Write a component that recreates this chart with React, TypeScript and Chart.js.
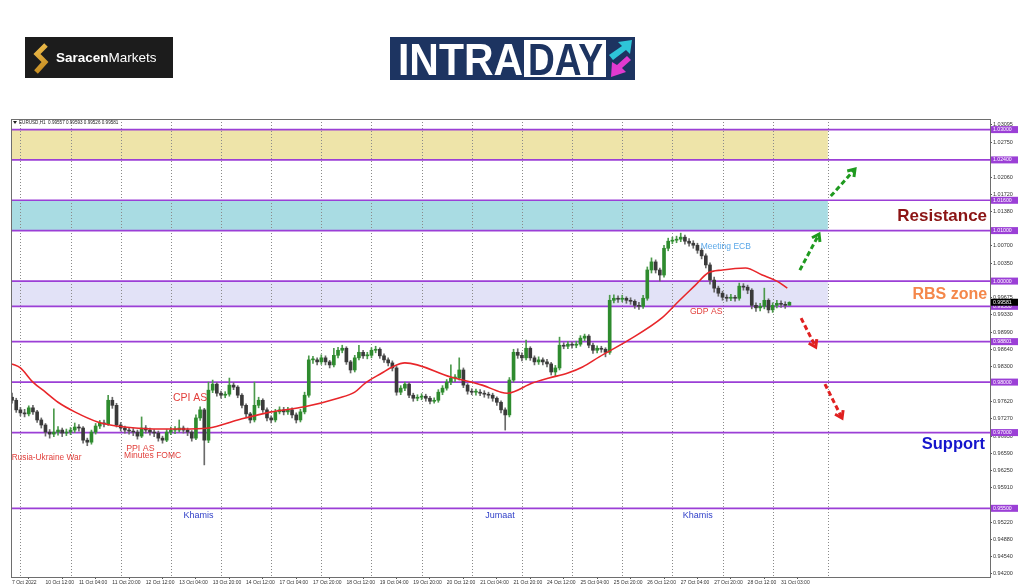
import { useEffect, useRef } from "react";
import { Chart, registerables } from "chart.js";

Chart.register(...registerables);

// ---- Data (2-hour candles) ----
const firstOpen = 0.977;
const closes = [
  0.9764, 0.9745, 0.9739, 0.9737, 0.9749, 0.9741, 0.9725, 0.9715, 0.9701, 0.9697,
  0.9701, 0.9705, 0.9699, 0.9701, 0.9705, 0.9711, 0.9709, 0.9685, 0.9681, 0.9701,
  0.9713, 0.9719, 0.9717, 0.9764, 0.9754, 0.9715, 0.9709, 0.9705, 0.9703, 0.9701,
  0.9693, 0.9709, 0.9705, 0.9701, 0.9699, 0.9689, 0.9685, 0.9701, 0.9705, 0.9705,
  0.9709, 0.9705, 0.9701, 0.9689, 0.9729, 0.9745, 0.9685, 0.9784, 0.9796, 0.9778,
  0.9774, 0.9776, 0.9794, 0.979, 0.9774, 0.9754, 0.9737, 0.9725, 0.9754, 0.9764,
  0.9745, 0.9729, 0.9725, 0.9741, 0.9745, 0.9741, 0.9745, 0.9735, 0.9725, 0.9741,
  0.9774, 0.9844, 0.9844, 0.984, 0.9848, 0.984, 0.9834, 0.9853, 0.9863, 0.9867,
  0.984, 0.9824, 0.9848, 0.9859, 0.9852, 0.9853, 0.9863, 0.9865, 0.9852, 0.9844,
  0.9838, 0.9828, 0.978, 0.9788, 0.9796, 0.9774, 0.9768, 0.977, 0.9772, 0.9768,
  0.9762, 0.9764, 0.978, 0.9788, 0.98, 0.9808, 0.9808, 0.9824, 0.9794, 0.9782,
  0.978, 0.978, 0.9778, 0.9776, 0.9774, 0.9768, 0.976, 0.9745, 0.9735, 0.9804,
  0.9859, 0.9853, 0.9848, 0.9867, 0.9848, 0.984, 0.9844, 0.984, 0.9836, 0.982,
  0.9828, 0.9873, 0.9871, 0.9875, 0.9873, 0.9875, 0.9887, 0.9891, 0.9873, 0.9863,
  0.9867, 0.9865, 0.9859, 0.9962, 0.9966, 0.9964, 0.9966, 0.9962, 0.996, 0.9952,
  0.995, 0.9966, 1.0022, 1.0038, 1.0022, 1.0012, 1.0065, 1.0079, 1.0081, 1.0083,
  1.0087, 1.0079, 1.0075, 1.0071, 1.0061, 1.005, 1.0032, 1.0002, 0.9986, 0.9976,
  0.9968, 0.9966, 0.9968, 0.9966, 0.999, 0.9988, 0.9982, 0.9952, 0.9947, 0.995,
  0.9962, 0.9943, 0.9952, 0.9956, 0.9954, 0.9952, 0.9958,
];
const highs = [
  0.9778, 0.9768, 0.975, 0.9746, 0.9753, 0.9754, 0.9744, 0.9729, 0.9718, 0.9706,
  0.9747, 0.9712, 0.9709, 0.9707, 0.971, 0.9719, 0.9716, 0.9712, 0.9689, 0.9705,
  0.9718, 0.9724, 0.9725, 0.9774, 0.977, 0.9758, 0.972, 0.9713, 0.971, 0.9708,
  0.9705, 0.9731, 0.9714, 0.9709, 0.9706, 0.9703, 0.9693, 0.9706, 0.9711, 0.9712,
  0.9725, 0.9713, 0.9709, 0.9704, 0.9735, 0.9751, 0.9748, 0.98, 0.9804, 0.9799,
  0.9782, 0.9781, 0.9808, 0.9799, 0.9793, 0.9777, 0.9757, 0.974, 0.98, 0.977,
  0.9767, 0.9749, 0.9733, 0.9746, 0.9751, 0.975, 0.975, 0.9749, 0.9739, 0.9746,
  0.978, 0.9852, 0.9851, 0.9848, 0.9854, 0.9852, 0.9843, 0.9867, 0.9869, 0.9873,
  0.987, 0.9843, 0.9853, 0.9873, 0.9863, 0.9859, 0.9868, 0.9871, 0.9868, 0.9856,
  0.9848, 0.9842, 0.9831, 0.9793, 0.98, 0.9799, 0.9778, 0.9775, 0.9777, 0.9776,
  0.9772, 0.9769, 0.9785, 0.9793, 0.9805, 0.9834, 0.9815, 0.9848, 0.9828, 0.9797,
  0.9787, 0.9786, 0.9785, 0.9783, 0.978, 0.9778, 0.9771, 0.9763, 0.9749, 0.9809,
  0.9865, 0.9866, 0.9858, 0.9883, 0.987, 0.9852, 0.985, 0.9848, 0.9845, 0.9839,
  0.9833, 0.9889, 0.9878, 0.988, 0.9879, 0.9881, 0.9892, 0.9895, 0.9894, 0.9877,
  0.9872, 0.9871, 0.9868, 0.9972, 0.9973, 0.9971, 0.9972, 0.9969, 0.9967, 0.9963,
  0.9958, 0.9972, 1.0028, 1.0046, 1.0042, 1.0026, 1.0071, 1.0085, 1.0087, 1.0089,
  1.0095, 1.0091, 1.0084, 1.008, 1.0075, 1.0065, 1.0054, 1.0036, 1.0008, 0.999,
  0.998, 0.9973, 0.9974, 0.9972, 0.9996, 0.9995, 0.9992, 0.9985, 0.9957, 0.9956,
  0.9986, 0.9965, 0.9957, 0.9962, 0.9961, 0.9959, 0.9959,
];
const lows = [
  0.9758, 0.974, 0.9733, 0.9731, 0.9733, 0.9736, 0.972, 0.9709, 0.9693, 0.9689,
  0.9692, 0.9695, 0.9692, 0.9694, 0.9696, 0.97, 0.9703, 0.9679, 0.9674, 0.9677,
  0.9697, 0.9708, 0.9711, 0.9714, 0.9748, 0.9711, 0.9703, 0.9699, 0.9697, 0.9694,
  0.9687, 0.969, 0.9699, 0.9695, 0.9692, 0.9683, 0.9679, 0.9682, 0.9696, 0.9698,
  0.9701, 0.9699, 0.9694, 0.9683, 0.9686, 0.9724, 0.9636, 0.968, 0.9779, 0.9772,
  0.9768, 0.9769, 0.9772, 0.9785, 0.9769, 0.9749, 0.9731, 0.9719, 0.9721, 0.9749,
  0.974, 0.9723, 0.9719, 0.9721, 0.9737, 0.9735, 0.9736, 0.9729, 0.9719, 0.9721,
  0.9737, 0.977, 0.9837, 0.9834, 0.9835, 0.9834, 0.9828, 0.983, 0.9848, 0.9858,
  0.9835, 0.9818, 0.982, 0.9844, 0.9847, 0.9846, 0.9848, 0.9858, 0.9847, 0.9839,
  0.9832, 0.9822, 0.9774, 0.9775, 0.9783, 0.9769, 0.9762, 0.9763, 0.9765, 0.9762,
  0.9757, 0.9758, 0.976, 0.9775, 0.9784, 0.9795, 0.9801, 0.9804, 0.9789, 0.9776,
  0.9775, 0.9774, 0.9773, 0.977, 0.9768, 0.9762, 0.9754, 0.9739, 0.9705, 0.9731,
  0.98, 0.9847, 0.9842, 0.9844, 0.9843, 0.9834, 0.9835, 0.9834, 0.983, 0.9814,
  0.9812, 0.9824, 0.9866, 0.9866, 0.9867, 0.9868, 0.9871, 0.9882, 0.9868, 0.9857,
  0.9858, 0.9859, 0.985, 0.9855, 0.9957, 0.9958, 0.9959, 0.9956, 0.9954, 0.9946,
  0.9944, 0.9946, 0.9962, 1.0016, 1.0016, 1.0, 1.0008, 1.006, 1.0074, 1.0076,
  1.0078, 1.0073, 1.0069, 1.0065, 1.0055, 1.0044, 1.0026, 0.9994, 0.9978, 0.997,
  0.9962, 0.996, 0.9961, 0.996, 0.9962, 0.9982, 0.9975, 0.9945, 0.994, 0.9941,
  0.9945, 0.9937, 0.9938, 0.9947, 0.9948, 0.9946, 0.9953,
];

// Moving average (red line) readings
const maK = [0, 2, 5, 8, 11, 15, 20.5, 25, 29.5, 35, 40.5, 47, 54, 62, 70, 78, 82, 84.5, 88.5, 91, 94, 105, 112.5, 117, 118.5, 124.5, 128.5, 133, 136.5, 140.5, 147.5, 155.5, 159.5, 163.5, 166.5, 170, 175.5, 179.5, 183, 185.5];
const maValues = [0.9836, 0.9828, 0.98, 0.978, 0.976, 0.9741, 0.9721, 0.9713, 0.9709, 0.9707, 0.9707, 0.9709, 0.9725, 0.9741, 0.9751, 0.9768, 0.978, 0.9798, 0.9818, 0.983, 0.9838, 0.981, 0.9794, 0.978, 0.9778, 0.9798, 0.9808, 0.9818, 0.983, 0.985, 0.9883, 0.9927, 0.996, 0.9992, 1.0016, 1.0022, 1.0026, 1.0012, 1.0, 0.9986];

// Axis ticks
const xTickK = [0, 8, 16, 24, 32, 40, 48, 56, 64, 72, 80, 88, 96, 104, 112, 120, 128, 136, 144, 152, 160, 168, 176, 184];
const xTickLabels = [
  "7 Oct 2022", "10 Oct 12:00", "11 Oct 04:00", "11 Oct 20:00", "12 Oct 12:00", "13 Oct 04:00",
  "13 Oct 20:00", "14 Oct 12:00", "17 Oct 04:00", "17 Oct 20:00", "18 Oct 12:00", "19 Oct 04:00",
  "19 Oct 20:00", "20 Oct 12:00", "21 Oct 04:00", "21 Oct 20:00", "24 Oct 12:00", "25 Oct 04:00",
  "25 Oct 20:00", "26 Oct 12:00", "27 Oct 04:00", "27 Oct 20:00", "28 Oct 12:00", "31 Oct 03:00",
];
const yTickValues = [1.03095, 1.0275, 1.0206, 1.0172, 1.0138, 1.007, 1.0035, 0.99675, 0.9933, 0.9899, 0.9864, 0.983, 0.9762, 0.9727, 0.9693, 0.9659, 0.9625, 0.9591, 0.9522, 0.9488, 0.9454, 0.942];
const dayLineK = [2, 14, 26, 38, 50, 62, 74, 86, 98, 110, 122, 134, 146, 158, 170, 182];
const shiftLineK = 195.2;

// Levels and zones
const levelValues = [1.03, 1.024, 1.016, 1.01, 1.0, 0.995, 0.98801, 0.98, 0.97, 0.955];
const zoneTops = [1.03, 1.016, 1.0];
const zoneBottoms = [1.024, 1.01, 0.995];
const lastPrice = 0.99581;
const headerText = "EURUSD,H1  0.99557 0.99593 0.99526 0.99581";

// Annotations
const noteTexts = ["Rusia-Ukraine War", "PPI AS", "Minutes FOMC", "CPI AS", "Meeting ECB", "GDP AS", "Khamis", "Jumaat", "Khamis", "Resistance", "RBS zone", "Support"];
const noteK = [-0.1, 27.3, 26.8, 38.5, 164.8, 162.2, 41, 113.2, 160.5, 233.3, 233.3, 232.8];
const notePrices = [0.96495, 0.9669, 0.96535, 0.97683, 1.00673, 0.99386, 0.95367, 0.95367, 0.95367, 1.01287, 0.99723, 0.96773];
const arrowFromK = [195.9, 188.5, 188.8, 194.5];
const arrowFromP = [1.01683, 1.00218, 0.99267, 0.97961];
const arrowToK = [201.7, 193.1, 192.3, 198.6];
const arrowToP = [1.02218, 1.00931, 0.98693, 0.97287];

// Styles
const noteStyles = [
  { c: "#e2403c", f: '8.3px "Liberation Sans"', a: "left" },
  { c: "#e2403c", f: '8.8px "Liberation Sans"', a: "left" },
  { c: "#e2403c", f: '8.5px "Liberation Sans"', a: "left" },
  { c: "#e2403c", f: '10.5px "Liberation Sans"', a: "left" },
  { c: "#5aa7e8", f: '8.5px "Liberation Sans"', a: "left" },
  { c: "#e2403c", f: '8.6px "Liberation Sans"', a: "left" },
  { c: "#2f3fc8", f: '9px "Liberation Sans"', a: "left" },
  { c: "#2f3fc8", f: '9px "Liberation Sans"', a: "left" },
  { c: "#2f3fc8", f: '9px "Liberation Sans"', a: "left" },
  { c: "#8b1414", f: 'bold 17px "Liberation Sans"', a: "right" },
  { c: "#f4874a", f: 'bold 16px "Liberation Sans"', a: "right" },
  { c: "#1515cc", f: 'bold 16.5px "Liberation Sans"', a: "right" },
];
const arrowColors = ["#1f9a1f", "#1f9a1f", "#e02020", "#e02020"];
const zoneColors = ["#eee4a9", "#a9dce3", "#e2e2f7"];
const levelColor = "#9b3fd6";

function drawArrow(ctx: CanvasRenderingContext2D, x1: number, y1: number, x2: number, y2: number, color: string) {
  const ang = Math.atan2(y2 - y1, x2 - x1);
  ctx.save();
  ctx.strokeStyle = color;
  ctx.lineWidth = 3;
  ctx.setLineDash([5, 3]);
  ctx.beginPath();
  ctx.moveTo(x1, y1);
  ctx.lineTo(x2 - Math.cos(ang) * 2, y2 - Math.sin(ang) * 2);
  ctx.stroke();
  ctx.setLineDash([]);
  const hl = 8;
  ctx.beginPath();
  ctx.moveTo(x2 - hl * Math.cos(ang - 0.6), y2 - hl * Math.sin(ang - 0.6));
  ctx.lineTo(x2, y2);
  ctx.lineTo(x2 - hl * Math.cos(ang + 0.6), y2 - hl * Math.sin(ang + 0.6));
  ctx.stroke();
  ctx.restore();
}

function drawLogos(ctx: CanvasRenderingContext2D) {
  ctx.save();
  // Saracen Markets
  ctx.fillStyle = "#1c1c1c";
  ctx.fillRect(25, 37, 148, 41);
  const g = ctx.createLinearGradient(33, 44, 48, 72);
  g.addColorStop(0, "#f3c352");
  g.addColorStop(1, "#c0861b");
  ctx.strokeStyle = g;
  ctx.lineWidth = 5;
  ctx.lineJoin = "miter";
  ctx.beginPath();
  ctx.moveTo(46, 45);
  ctx.lineTo(37, 54);
  ctx.lineTo(45, 62);
  ctx.lineTo(36, 72);
  ctx.stroke();
  ctx.fillStyle = "#ffffff";
  ctx.textBaseline = "middle";
  ctx.textAlign = "left";
  ctx.font = 'bold 13.5px "Liberation Sans"';
  ctx.fillText("Saracen", 56, 58);
  const w = ctx.measureText("Saracen").width;
  ctx.font = '13.5px "Liberation Sans"';
  ctx.fillText("Markets", 56 + w, 58);

  // INTRADAY
  ctx.fillStyle = "#1d3461";
  ctx.fillRect(390, 37, 245, 43);
  ctx.fillStyle = "#ffffff";
  ctx.fillRect(524, 40, 82, 37);
  ctx.font = 'bold 44px "Liberation Sans"';
  ctx.textBaseline = "alphabetic";
  ctx.fillStyle = "#ffffff";
  ctx.fillText("INTRA", 398, 75, 125);
  ctx.fillStyle = "#1d3461";
  ctx.fillText("DAY", 528, 75, 75);
  // arrow icon
  ctx.fillStyle = "#2ec5d8";
  ctx.beginPath();
  ctx.moveTo(609, 55);
  ctx.lineTo(622, 46);
  ctx.lineTo(618, 42);
  ctx.lineTo(632, 40);
  ctx.lineTo(630, 54);
  ctx.lineTo(626, 50);
  ctx.lineTo(613, 60);
  ctx.closePath();
  ctx.fill();
  ctx.fillStyle = "#e23ad0";
  ctx.beginPath();
  ctx.moveTo(631, 60);
  ctx.lineTo(622, 68);
  ctx.lineTo(626, 72);
  ctx.lineTo(611, 77);
  ctx.lineTo(612, 62);
  ctx.lineTo(617, 65);
  ctx.lineTo(627, 56);
  ctx.closePath();
  ctx.fill();
  ctx.restore();
}

const decor = {
  id: "decor",
  beforeDatasetsDraw(chart: any) {
    const { ctx, chartArea: a, scales } = chart;
    const x = scales.x;
    const y = scales.y;
    ctx.save();
    const zoneEnd = x.getPixelForValue(shiftLineK);
    zoneTops.forEach((t, i) => {
      const y1 = y.getPixelForValue(t);
      const y2 = y.getPixelForValue(zoneBottoms[i]);
      ctx.fillStyle = zoneColors[i];
      ctx.fillRect(a.left, y1, zoneEnd - a.left, y2 - y1);
    });
    ctx.strokeStyle = "#8a8a8a";
    ctx.lineWidth = 1;
    ctx.setLineDash([1, 2]);
    [...dayLineK, shiftLineK].forEach((k) => {
      const px = Math.round(x.getPixelForValue(k)) + 0.5;
      ctx.beginPath();
      ctx.moveTo(px, a.top);
      ctx.lineTo(px, a.bottom);
      ctx.stroke();
    });
    ctx.setLineDash([]);
    ctx.strokeStyle = levelColor;
    ctx.lineWidth = 1.6;
    levelValues.forEach((v) => {
      const py = y.getPixelForValue(v);
      ctx.beginPath();
      ctx.moveTo(a.left, py);
      ctx.lineTo(a.right, py);
      ctx.stroke();
    });
    ctx.restore();
  },
  afterDatasetsDraw(chart: any) {
    const { ctx, scales } = chart;
    const x = scales.x;
    const y = scales.y;
    ctx.save();
    ctx.textBaseline = "middle";
    noteTexts.forEach((t, i) => {
      const s = noteStyles[i];
      ctx.fillStyle = s.c;
      ctx.font = s.f;
      ctx.textAlign = s.a as CanvasTextAlign;
      ctx.fillText(t, x.getPixelForValue(noteK[i]), y.getPixelForValue(notePrices[i]));
    });
    arrowFromK.forEach((k, i) => {
      drawArrow(
        ctx,
        x.getPixelForValue(k),
        y.getPixelForValue(arrowFromP[i]),
        x.getPixelForValue(arrowToK[i]),
        y.getPixelForValue(arrowToP[i]),
        arrowColors[i]
      );
    });
    ctx.restore();
  },
  afterDraw(chart: any) {
    const { ctx, chartArea: a, scales } = chart;
    const y = scales.y;
    ctx.save();
    ctx.strokeStyle = "#6e6e6e";
    ctx.lineWidth = 1;
    ctx.strokeRect(a.left + 0.5, a.top + 0.5, a.right - a.left, a.bottom - a.top);
    // header
    ctx.fillStyle = "#222";
    ctx.beginPath();
    ctx.moveTo(13, 121);
    ctx.lineTo(17, 121);
    ctx.lineTo(15, 124);
    ctx.closePath();
    ctx.fill();
    ctx.font = '4.6px "Liberation Sans"';
    ctx.textBaseline = "middle";
    ctx.textAlign = "left";
    ctx.fillText(headerText, 19, 122.5);
    // level boxes
    ctx.font = '5.2px "Liberation Sans"';
    levelValues.forEach((v) => {
      const py = y.getPixelForValue(v);
      ctx.fillStyle = levelColor;
      ctx.fillRect(a.right + 1, py - 3.5, 27, 7);
      ctx.fillStyle = "#fff";
      ctx.fillText(v.toFixed(5), a.right + 3, py);
    });
    const lp = y.getPixelForValue(lastPrice);
    ctx.fillStyle = "#000";
    ctx.fillRect(a.right + 1, lp - 3.5, 27, 7);
    ctx.fillStyle = "#fff";
    ctx.fillText(lastPrice.toFixed(5), a.right + 3, lp);
    ctx.restore();
    drawLogos(ctx);
  },
};

export default function App() {
  const ref = useRef<HTMLCanvasElement>(null);
  useEffect(() => {
    const canvas = ref.current;
    if (!canvas) return;
    const opens = closes.map((c, i) => (i === 0 ? firstOpen : closes[i - 1]));
    const up = closes.map((c, i) => c >= opens[i]);
    const bodyData = closes.map((c, i) => ({ x: i, y: [opens[i], c] }));
    const wickData = closes.map((c, i) => ({ x: i, y: [lows[i], highs[i]] }));
    const maData = maK.map((k, i) => ({ x: k, y: maValues[i] }));
    const chart = new Chart(canvas, {
      type: "bar",
      data: {
        datasets: [
          {
            type: "line",
            data: maData,
            borderColor: "#e8262a",
            borderWidth: 1.6,
            pointRadius: 0,
            cubicInterpolationMode: "monotone",
            order: 0,
          } as any,
          {
            type: "bar",
            data: bodyData,
            backgroundColor: up.map((u) => (u ? "#2e8b2e" : "#3a3a3a")),
            barThickness: 3,
            minBarLength: 1,
            grouped: false,
            order: 1,
          } as any,
          {
            type: "bar",
            data: wickData,
            backgroundColor: up.map((u) => (u ? "#4c9a4c" : "#6a6a6a")),
            barThickness: 1,
            grouped: false,
            order: 2,
          } as any,
        ],
      },
      options: {
        responsive: false,
        animation: false,
        devicePixelRatio: 1,
        events: [],
        layout: { padding: { left: 11, top: 119, right: 0, bottom: 0 } },
        plugins: { legend: { display: false }, tooltip: { enabled: false } },
        scales: {
          x: {
            type: "linear",
            min: -0.25,
            max: 234,
            offset: false,
            afterBuildTicks: (s: any) => {
              s.ticks = xTickK.map((v) => ({ value: v }));
            },
            afterFit: (s: any) => {
              s.height = 10;
            },
            ticks: {
              autoSkip: false,
              maxRotation: 0,
              align: "start",
              padding: 1,
              color: "#333",
              font: { size: 5, family: "Liberation Sans" },
              callback: (_v: any, i: number) => xTickLabels[i] ?? "",
            },
            grid: { drawOnChartArea: false, drawTicks: true, tickLength: 2, color: "#555" },
            border: { display: false },
          },
          y: {
            type: "linear",
            position: "right",
            min: 0.9414,
            max: 1.0321,
            afterBuildTicks: (s: any) => {
              s.ticks = yTickValues.map((v) => ({ value: v }));
            },
            afterFit: (s: any) => {
              s.width = 34;
            },
            ticks: {
              padding: 1,
              color: "#333",
              font: { size: 5.5, family: "Liberation Sans" },
              callback: (v: any) => Number(v).toFixed(5),
            },
            grid: { drawOnChartArea: false, drawTicks: true, tickLength: 2, color: "#555" },
            border: { display: false },
          },
        },
      } as any,
      plugins: [decor],
    });
    return () => chart.destroy();
  }, []);
  return (
    <div style={{ position: "absolute", left: 0, top: 0, width: 1024, height: 587, background: "#fff" }}>
      <canvas ref={ref} width={1024} height={587} style={{ display: "block" }} />
    </div>
  );
}
